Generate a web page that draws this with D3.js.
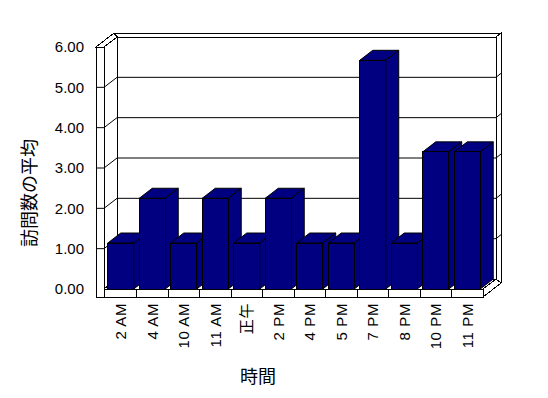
<!DOCTYPE html>
<html>
<head>
<meta charset="utf-8">
<script src="https://cdn.jsdelivr.net/npm/d3@7/dist/d3.min.js"></script>
<style>
  body { margin: 0; background: #fff; }
  text { font-family: "Liberation Sans", Arial, "Noto Sans CJK JP", sans-serif; fill: #000; }
</style>
</head>
<body>
<svg id="chart" width="548" height="398"></svg>
<script>
// data
var hours = ['2 AM', '4 AM', '10 AM', '11 AM', '正午', '2 PM', '4 PM', '5 PM', '7 PM', '8 PM', '10 PM', '11 PM'];
var avgVisits = [1.14, 2.25, 1.14, 2.25, 1.14, 2.25, 1.14, 1.14, 5.67, 1.14, 3.40, 3.40];
var yTicks = [0, 1, 2, 3, 4, 5, 6];
var xTitle = '時間';
var yTitle = '訪問数の平均';

var data = hours.map(function(h, i) { return { hour: h, value: avgVisits[i] }; });

var svg = d3.select('#chart');

///////////////////////
// 3d box setup
var wallLeft = 96, wallThick = 8;       // left wall front face
var floorThick = 8;
var depth = { dx: 13, dy: -10 };        // floor depth
var backT = { dx: 5, dy: -4 };          // back wall thickness

var x = d3.scaleBand()
    .domain(hours)
    .range([wallLeft + wallThick + 1, 483])
    .paddingInner(0.175)
    .paddingOuter(0.0875);

var y = d3.scaleLinear()
    .domain([0, 6])
    .range([289, 47]);

var x0 = wallLeft + wallThick;           // inner face of left wall
var x1 = x.range()[1];                   // right end of floor
var yb = y(0), yt = y(6);
var full = { dx: depth.dx + backT.dx, dy: depth.dy + backT.dy };

function poly(pts) { return 'M' + pts.map(function(p) { return p.join(','); }).join('L') + 'Z'; }

var box = svg.append('g')
    .attr('fill', '#fff')
    .attr('stroke', '#000')
    .attr('stroke-width', 1)
    .attr('shape-rendering', 'crispEdges');

// back wall top face
box.append('path').attr('d', poly([
  [wallLeft + full.dx, yt + full.dy], [x1 + full.dx, yt + full.dy],
  [x1 + depth.dx, yt + depth.dy], [x0 + depth.dx, yt + depth.dy]
])).attr('shape-rendering', null);
// back wall right face
box.append('path').attr('d', poly([
  [x1 + depth.dx, yt + depth.dy], [x1 + full.dx, yt + full.dy],
  [x1 + full.dx, yb + floorThick + full.dy], [x1 + depth.dx, yb + floorThick + depth.dy]
])).attr('shape-rendering', null);
// back wall face
box.append('rect')
    .attr('x', x0 + depth.dx).attr('y', yt + depth.dy)
    .attr('width', x1 - x0).attr('height', yb - yt);
// floor right face
box.append('path').attr('d', poly([
  [x1, yb], [x1 + depth.dx, yb + depth.dy],
  [x1 + full.dx, yb + floorThick + full.dy], [x1, yb + floorThick]
])).attr('shape-rendering', null);
// floor top
box.append('path').attr('d', poly([
  [x0, yb], [x1, yb], [x1 + depth.dx, yb + depth.dy], [x0 + depth.dx, yb + depth.dy]
])).attr('shape-rendering', null);
// floor front
box.append('rect')
    .attr('x', x0).attr('y', yb)
    .attr('width', x1 - x0).attr('height', floorThick);
// left wall top
box.append('path').attr('d', poly([
  [wallLeft, yt], [x0, yt], [x0 + depth.dx, yt + depth.dy], [wallLeft + full.dx, yt + full.dy]
])).attr('shape-rendering', null);
// left wall inner face
box.append('path').attr('d', poly([
  [x0, yt], [x0 + depth.dx, yt + depth.dy], [x0 + depth.dx, yb + depth.dy], [x0, yb]
])).attr('shape-rendering', null);
// left wall front
box.append('rect')
    .attr('x', wallLeft).attr('y', yt)
    .attr('width', wallThick).attr('height', yb + floorThick - yt);

// category separators on floor front
box.selectAll('line.sep')
  .data(hours.slice(1))
  .enter().append('line')
    .attr('x1', function(d) { return x(d) - x.step() * x.paddingInner() / 2; })
    .attr('x2', function(d) { return x(d) - x.step() * x.paddingInner() / 2; })
    .attr('y1', yb).attr('y2', yb + floorThick);

///////////////////////
// gridlines + ticks
var grid = svg.append('g')
    .attr('stroke', '#000')
    .attr('fill', 'none');

yTicks.filter(function(t) { return t > 0 && t < 6; }).forEach(function(t) {
  var yy = y(t);
  grid.append('path')
      .attr('d', 'M' + wallLeft + ',' + yy + 'L' + x0 + ',' + yy +
                 'L' + (x0 + depth.dx) + ',' + (yy + depth.dy) +
                 'L' + (x1 + depth.dx) + ',' + (yy + depth.dy) +
                 'L' + (x1 + full.dx) + ',' + (yy + full.dy));
});

///////////////////////
// bars
var bw = x.bandwidth();
var bars = svg.append('g')
    .attr('fill', '#000080')
    .attr('stroke', '#000')
    .attr('stroke-linejoin', 'round');

data.forEach(function(d) {
  var bx = x(d.hour), by = y(d.value);
  var g = bars.append('g');
  g.append('path').attr('d', poly([
    [bx, by], [bx + bw, by], [bx + bw + depth.dx, by + depth.dy], [bx + depth.dx, by + depth.dy]
  ]));
  g.append('path').attr('d', poly([
    [bx + bw, by], [bx + bw + depth.dx, by + depth.dy], [bx + bw + depth.dx, yb + depth.dy], [bx + bw, yb]
  ]));
  g.append('rect')
      .attr('x', bx).attr('y', by)
      .attr('width', bw).attr('height', yb - by)
      .attr('shape-rendering', 'crispEdges');
});

///////////////////////
// labels
svg.append('g').selectAll('text')
  .data(yTicks)
  .enter().append('text')
    .attr('x', 84)
    .attr('y', function(d) { return y(d); })
    .attr('dy', '0.35em')
    .attr('text-anchor', 'end')
    .style('font-size', '15px')
    .text(function(d) { return d3.format('.2f')(d); });

svg.append('g').selectAll('text')
  .data(hours)
  .enter().append('text')
    .attr('transform', function(d) { return 'translate(' + (x(d) + bw / 2) + ',303) rotate(-90)'; })
    .attr('dy', '0.35em')
    .attr('text-anchor', 'end')
    .style('font-size', '15px')
    .style('letter-spacing', '0.6px')
    .text(function(d) { return d; });

svg.append('text')
    .attr('x', 258).attr('y', 377)
    .attr('dy', '0.35em')
    .attr('text-anchor', 'middle')
    .style('font-size', '18px')
    .text(xTitle);

svg.append('text')
    .attr('transform', 'translate(30,193) rotate(-90)')
    .attr('dy', '0.35em')
    .attr('text-anchor', 'middle')
    .style('font-size', '18px')
    .text(yTitle);
</script>
</body>
</html>
